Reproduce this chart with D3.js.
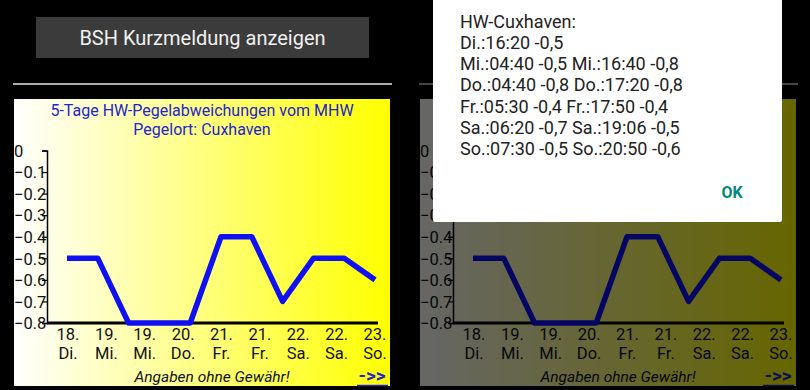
<!DOCTYPE html>
<html>
<head>
<meta charset="utf-8">
<script src="https://cdn.jsdelivr.net/npm/d3@7"></script>
<style>
  body { margin: 0; background: #000; }
  svg { display: block; font-family: Roboto, "Noto Sans", sans-serif; }
</style>
</head>
<body>
<svg id="chart" width="810" height="390"></svg>
<script>
// tide deviation data, Cuxhaven
var hwTimes = ["Di.:16:20", "Mi.:04:40", "Mi.:16:40", "Do.:04:40", "Do.:17:20", "Fr.:05:30",
               "Fr.:17:50", "Sa.:06:20", "Sa.:19:06", "So.:07:30", "So.:20:50"];
var hwValues = [-0.5, -0.5, -0.8, -0.8, -0.8, -0.4, -0.4, -0.7, -0.5, -0.5, -0.6];
var dayNums = ["18.", "19.", "19.", "20.", "21.", "21.", "22.", "22.", "23."];
var dayNames = ["Di.", "Mi.", "Mi.", "Do.", "Fr.", "Fr.", "Sa.", "Sa.", "So."];
var yTicks = [0, -0.1, -0.2, -0.3, -0.4, -0.5, -0.6, -0.7, -0.8];

var svg = d3.select("#chart");

var defs = svg.append("defs");
var grad = defs.append("linearGradient").attr("id", "bg").attr("x1", "0").attr("x2", "1").attr("y1", "0").attr("y2", "0");
grad.append("stop").attr("offset", "0%").attr("stop-color", "#ffffff");
grad.append("stop").attr("offset", "100%").attr("stop-color", "#ffff00");

var x = d3.scaleLinear().domain([0, hwValues.length - 1]).range([67, 375]);
var xLab = d3.scaleLinear().domain([0, dayNums.length - 1]).range([68, 375]);
var y = d3.scaleLinear().domain([-0.8, 0]).range([323, 150.5]);

// covered = the copy behind the dialog, its button text and title are hidden anyway
var drawScreen = function (g, covered) {
  // button
  g.append("rect").attr("x", 36).attr("y", 17).attr("width", 333).attr("height", 41).attr("fill", "#3b3b3b");
  if (!covered) {
    g.append("text").attr("x", 202.5).attr("y", 45).attr("text-anchor", "middle")
      .attr("fill", "#f0f0f0").attr("font-size", 20).text("BSH Kurzmeldung anzeigen");
  }
  g.append("line").attr("x1", 13).attr("x2", 392).attr("y1", 84).attr("y2", 84)
    .attr("stroke", "#e6e6e6").attr("stroke-width", 1.5);

  // panel
  g.append("rect").attr("x", 14).attr("y", 99).attr("width", 376).attr("height", 287).attr("fill", "url(#bg)");

  if (!covered) {
    g.append("text").attr("x", 202).attr("y", 116).attr("text-anchor", "middle")
      .attr("fill", "#2424cc").attr("font-size", 16).text("5-Tage HW-Pegelabweichungen vom MHW");
    g.append("text").attr("x", 202).attr("y", 135).attr("text-anchor", "middle")
      .attr("fill", "#2424cc").attr("font-size", 16).text("Pegelort: Cuxhaven");
  }

  // y axis
  var yAxis = g.append("g").attr("transform", "translate(47,0)")
    .call(d3.axisLeft(y).tickValues(yTicks).tickSize(5).tickFormat(d3.format(".1f")));
  yAxis.select(".domain").attr("stroke", "#000").attr("stroke-width", 1.5);
  yAxis.selectAll(".tick line").attr("stroke", "#000").attr("stroke-width", 1.2);
  yAxis.selectAll(".tick text")
    .text(function (d) { return d === 0 ? "0" : d3.format(".1f")(d); })
    .attr("x", -33).attr("text-anchor", "start").attr("dy", "0.35em")
    .attr("fill", "#111").attr("font-size", 16.5).attr("font-family", "Roboto");

  // x axis line
  g.append("line").attr("x1", 47).attr("x2", 378).attr("y1", y(-0.8)).attr("y2", y(-0.8))
    .attr("stroke", "#000").attr("stroke-width", 3);

  // x labels
  var xl = g.append("g").selectAll("text").data(dayNums).join("text")
    .attr("x", function (d, i) { return xLab(i); })
    .attr("y", 340).attr("text-anchor", "middle").attr("fill", "#111").attr("font-size", 16.5);
  xl.append("tspan").text(function (d) { return d; });
  xl.append("tspan").attr("x", function (d, i) { return xLab(i); }).attr("dy", 19)
    .text(function (d, i) { return dayNames[i]; });

  // line
  var line = d3.line().x(function (d, i) { return x(i); }).y(function (d) { return y(d); });
  g.append("path").datum(hwValues).attr("d", line).attr("fill", "none")
    .attr("stroke", "#1010f5").attr("stroke-width", 5.5).attr("stroke-linejoin", "round");

  g.append("text").attr("x", 212).attr("y", 382).attr("text-anchor", "middle")
    .attr("font-style", "italic").attr("fill", "#111").attr("font-size", 15.5).text("Angaben ohne Gewähr!");
  g.append("text").attr("x", 372).attr("y", 382).attr("text-anchor", "middle")
    .attr("fill", "#2424cc").attr("font-size", 19).attr("font-weight", "bold").text("->>");
  g.append("line").attr("x1", 357).attr("x2", 388).attr("y1", 385.5).attr("y2", 385.5)
    .attr("stroke", "#2424cc").attr("stroke-width", 1.5);
};

drawScreen(svg.append("g"), false);
drawScreen(svg.append("g").attr("transform", "translate(406,0)"), true);

// dim overlay behind dialog
svg.append("rect").attr("x", 405).attr("y", 0).attr("width", 405).attr("height", 390)
  .attr("fill", "#000").attr("opacity", 0.6);

// dialog
svg.append("rect").attr("x", 433).attr("y", -5).attr("width", 349).attr("height", 227)
  .attr("rx", 2).attr("fill", "#fff");

var dayOf = function (t) { return t.split(":")[0]; };
var fmt = function (i) { return hwTimes[i] + " " + String(hwValues[i]).replace(".", ","); };
var lines = ["HW-Cuxhaven:"];
var days = Array.from(new Set(hwTimes.map(dayOf)));
days.forEach(function (day) {
  var idx = d3.range(hwTimes.length).filter(function (i) { return dayOf(hwTimes[i]) === day; });
  lines.push(idx.map(fmt).join(" "));
});

svg.append("g").selectAll("text").data(lines).join("text")
  .attr("x", 460).attr("y", function (d, i) { return 27.5 + i * 21.3; })
  .attr("fill", "#222").attr("font-size", 18).text(function (d) { return d; });

svg.append("text").attr("x", 732).attr("y", 198).attr("text-anchor", "middle")
  .attr("fill", "#00897b").attr("font-size", 16).attr("font-weight", "bold").text("OK");
</script>
</body>
</html>
